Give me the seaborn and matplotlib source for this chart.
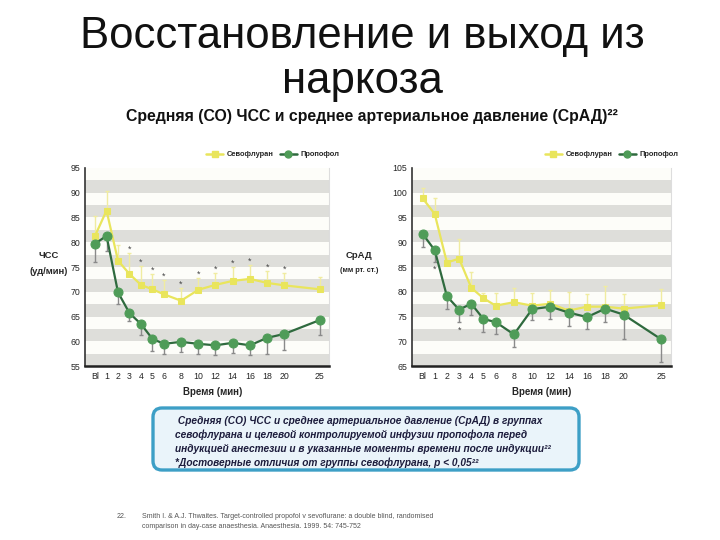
import numpy as np
import pandas as pd
import matplotlib
matplotlib.use('Agg')
import matplotlib.pyplot as plt
from matplotlib.patches import FancyBboxPatch
from matplotlib.lines import Line2D
import seaborn as sns

# ---- data ----
time_labels = ['Bl', '1', '2', '3', '4', '5', '6', '8', '10', '12', '14', '16', '18', '20', '25']
# x axis of the original is not linear in minutes
time_pos = [0, 1, 2, 3, 4, 5, 6, 7.5, 9, 10.5, 12, 13.5, 15, 16.5, 19.6]

hr_sevo = [81.3, 86.4, 76.3, 73.6, 71.4, 70.5, 69.5, 68.2, 70.4, 71.4, 72.2, 72.6, 71.8, 71.3, 70.5]
hr_sevo_err = [4.0, 3.9, 3.2, 4.2, 3.8, 3.0, 2.8, 2.6, 2.3, 2.3, 2.8, 2.8, 2.3, 2.4, 2.5]
hr_prop = [79.7, 81.3, 69.9, 65.7, 63.5, 60.5, 59.5, 59.9, 59.5, 59.2, 59.7, 59.2, 60.7, 61.5, 64.3]
hr_prop_err = [3.6, 3.0, 2.3, 1.6, 2.3, 2.5, 2.0, 2.1, 2.0, 2.0, 2.0, 2.0, 3.2, 3.2, 3.1]
hr_signif = [0, 0, 0, 1, 1, 1, 1, 1, 1, 1, 1, 1, 1, 1, 0]

map_sevo = [98.9, 95.7, 85.9, 86.7, 80.8, 78.7, 77.2, 77.9, 77.2, 77.6, 76.2, 77.0, 77.0, 76.6, 77.3]
map_sevo_err = [2.1, 3.2, 1.0, 4.0, 3.1, 1.0, 2.6, 2.8, 2.6, 2.7, 3.8, 2.5, 4.1, 2.9, 3.2]
map_prop = [91.7, 88.4, 79.1, 76.4, 77.6, 74.5, 73.9, 71.4, 76.5, 77.0, 75.8, 74.9, 76.6, 75.4, 70.4]
map_prop_err = [2.7, 2.3, 2.5, 2.5, 2.3, 2.6, 2.5, 2.5, 2.2, 2.4, 2.8, 2.5, 2.7, 4.9, 4.6]
map_signif = [0, 1, 0, 1, 0, 0, 0, 0, 0, 0, 0, 0, 0, 0, 0]

sns.set_style('white')
plt.rcParams['font.family'] = ['Liberation Sans', 'DejaVu Sans']

YELLOW = '#e9e55c'
YELLOW_ERR = '#f0eca0'
GREEN_LINE = '#2f6a3e'
GREEN_MARK = '#4f9c58'
GREY_ERR = '#8a8a8a'
BAND = '#dededa'

fig = plt.figure(figsize=(7.2, 5.4), dpi=100)

# full-figure overlay in pixel coords for text and the box
bg = fig.add_axes([0, 0, 1, 1], zorder=-1)
bg.set_xlim(0, 720)
bg.set_ylim(540, 0)
bg.axis('off')


def draw_panel(ax, sevo, sevo_err, prop, prop_err, signif, ylim, star_above):
    # striped background
    lo, hi = ylim
    ax.set_facecolor('#fdfdf9')
    for y0 in np.arange(lo, hi, 5):
        ax.axhspan(y0, y0 + 2.5, color=BAND, lw=0, zorder=0)

    df = pd.DataFrame({
        'x': time_pos * 2,
        'y': sevo + prop,
        'group': ['Севофлуран'] * len(sevo) + ['Пропофол'] * len(prop),
    })

    # error bars: sevo up, propofol down
    ax.errorbar(time_pos, sevo, yerr=[np.zeros(len(sevo)), sevo_err], fmt='none',
                ecolor=YELLOW_ERR, elinewidth=1.0, capsize=1.2, zorder=2)
    ax.errorbar(time_pos, prop, yerr=[prop_err, np.zeros(len(prop))], fmt='none',
                ecolor=GREY_ERR, elinewidth=1.0, capsize=1.2, zorder=2)

    sns.lineplot(data=df[df.group == 'Севофлуран'], x='x', y='y', ax=ax, color=YELLOW,
                 marker='s', markersize=5, markeredgecolor=YELLOW, lw=1.6, zorder=3,
                 legend=False)
    sns.lineplot(data=df[df.group == 'Пропофол'], x='x', y='y', ax=ax, color=GREEN_LINE,
                 marker='o', markersize=6.5, markerfacecolor=GREEN_MARK,
                 markeredgecolor=GREEN_MARK, lw=1.6, zorder=4, legend=False)

    # significance stars
    for i, s in enumerate(signif):
        if not s:
            continue
        if star_above:
            ax.text(time_pos[i], sevo[i] + sevo_err[i] + 0.8, '*', ha='center', va='center',
                    fontsize=6.5, color='#444444')
        else:
            ax.text(time_pos[i], prop[i] - prop_err[i] - 1.6, '*', ha='center', va='center',
                    fontsize=6.5, color='#444444')

    ax.set_xlim(-0.88, 20.4)
    ax.set_ylim(lo, hi)
    ax.set_xticks(time_pos)
    ax.set_xticklabels(time_labels)
    ax.set_yticks(np.arange(lo, hi + 1, 5))
    ax.set_xlabel('')
    ax.set_ylabel('')
    ax.tick_params(axis='y', length=3, width=2, color='#222222', labelsize=6.3, pad=2,
                   direction='inout')
    ax.tick_params(axis='x', length=0, labelsize=6.3, pad=4)
    for lab in ax.get_xticklabels() + ax.get_yticklabels():
        lab.set_family(['Liberation Sans Narrow', 'Liberation Sans'])
    ax.spines['left'].set_color('#333333')
    ax.spines['left'].set_linewidth(1.2)
    ax.spines['bottom'].set_color('#222222')
    ax.spines['bottom'].set_linewidth(1.8)
    ax.spines['right'].set_color('#dddddd')
    ax.spines['right'].set_linewidth(0.8)
    ax.spines['top'].set_visible(False)

    handles = [
        Line2D([], [], color=YELLOW, marker='s', markersize=4.5, lw=1.8),
        Line2D([], [], color=GREEN_LINE, marker='o', markersize=5, markerfacecolor=GREEN_MARK,
               markeredgecolor=GREEN_MARK, lw=1.8),
    ]
    ax.legend(handles, ['Севофлуран', 'Пропофол'], ncol=2, frameon=False,
              loc='center right', bbox_to_anchor=(1.07, 1.066),
              handlelength=2.2, columnspacing=0.9, handletextpad=0.5,
              prop={'weight': 'bold', 'size': 5.4})


ax1 = fig.add_axes([0.118, 0.322, 0.339, 0.367])
draw_panel(ax1, hr_sevo, hr_sevo_err, hr_prop, hr_prop_err, hr_signif, (55, 95), True)

ax2 = fig.add_axes([0.572, 0.322, 0.360, 0.367])
draw_panel(ax2, map_sevo, map_sevo_err, map_prop, map_prop_err, map_signif, (65, 105), False)
ax2.get_legend().set_bbox_to_anchor((1.054, 1.066))

# titles
bg.text(362, 59, 'Восстановление и выход из\nнаркоза', ha='center', va='center',
        fontsize=31.5, linespacing=1.14, color='#111111')
bg.text(372, 117, 'Средняя (СО) ЧСС и среднее артериальное давление (СрАД)²²',
        ha='center', va='center', fontsize=11.4, fontweight='bold', color='#111111')

# axis captions
bg.text(49, 264, 'ЧСС\n(уд/мин)', ha='center', va='center', fontsize=6.8,
        fontweight='bold', linespacing=2.0)
bg.text(359, 256, 'СрАД', ha='center', va='center', fontsize=6.8, fontweight='bold')
bg.text(359, 270, '(мм рт. ст.)', ha='center', va='center', fontsize=5.3, fontweight='bold')
bg.text(213, 392, 'Время (мин)', ha='center', va='center', fontsize=7, fontweight='bold')
bg.text(542, 392, 'Время (мин)', ha='center', va='center', fontsize=7, fontweight='bold')

# caption box
box = FancyBboxPatch((153, 408), 426, 62, boxstyle='round,pad=0,rounding_size=9',
                     facecolor='#eaf4fa', edgecolor='#3d9fc6', linewidth=2.4)
bg.add_patch(box)
caption = [
    ' Средняя (СО) ЧСС и среднее артериальное давление (СрАД) в группах',
    'севофлурана и целевой контролируемой инфузии пропофола перед',
    'индукцией анестезии и в указанные моменты времени после индукции²²',
    '*Достоверные отличия от группы севофлурана, р < 0,05²²',
]
for k, line in enumerate(caption):
    bg.text(175, 421 + k * 13.8, line, ha='left', va='center', fontsize=7.3,
            fontweight='bold', fontstyle='italic', color='#1c1c3c')

# reference
bg.text(117, 516, '22.', ha='left', va='center', fontsize=5.0, color='#555555')
bg.text(142, 516, 'Smith I. & A.J. Thwaites. Target-controlled propofol v sevoflurane: a double blind, randomised',
        ha='left', va='center', fontsize=5.0, color='#555555')
bg.text(142, 527, 'comparison in day-case anaesthesia. Anaesthesia. 1999. 54: 745-752',
        ha='left', va='center', fontsize=5.0, color='#555555')

fig.savefig('out.png', dpi=100)
